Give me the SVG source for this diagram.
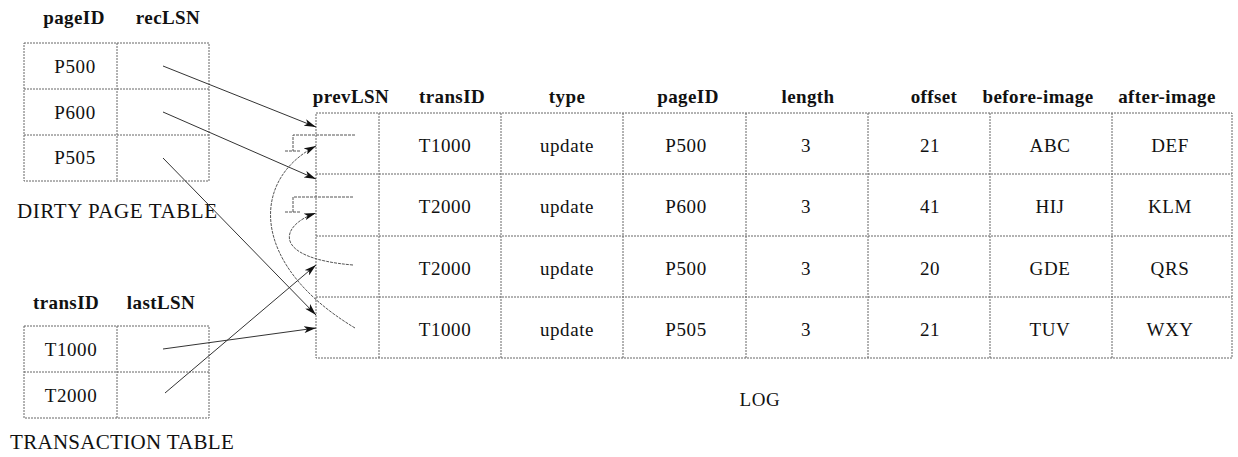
<svg xmlns="http://www.w3.org/2000/svg" width="1238" height="457" viewBox="0 0 1238 457" font-family="'Liberation Serif', 'DejaVu Serif', serif">
<style>
  text { font-family: "Liberation Serif", "DejaVu Serif", "Noto Serif", serif; fill: #111; }
  .h { font-weight: bold; font-size: 19px; text-anchor: middle; letter-spacing: 0.4px; }
  .c { font-size: 19px; text-anchor: middle; letter-spacing: 0.6px; }
  .lbl { font-size: 21px; letter-spacing: 0.6px; }
  .grid { fill: none; stroke: #666; stroke-width: 1; stroke-dasharray: 2 1; }
  .conn { fill: none; stroke: #333; stroke-width: 1; }
  .soft { fill: none; stroke: #555; stroke-width: 1; stroke-dasharray: 3 1; }
</style>
<defs>
  <marker id="ah" markerUnits="userSpaceOnUse" markerWidth="13" markerHeight="7" refX="12" refY="3.5" orient="auto">
    <path d="M0,0 L12,3.5 L0,7 L3,3.5 z" fill="#111"/>
  </marker>
</defs>
<rect width="1238" height="457" fill="#fff"/>

<g id="dirty-page-table">
  <text class="h" x="74" y="24">pageID</text>
  <text class="h" x="168" y="24">recLSN</text>
  <rect class="grid" x="24" y="43" width="185" height="138"/>
  <line class="grid" x1="117" y1="43" x2="117" y2="181"/>
  <line class="grid" x1="24" y1="89" x2="209" y2="89"/>
  <line class="grid" x1="24" y1="135" x2="209" y2="135"/>
  <text class="c" x="75" y="73">P500</text>
  <text class="c" x="75" y="119">P600</text>
  <text class="c" x="75" y="164">P505</text>
  <text class="lbl" x="17" y="218">DIRTY PAGE TABLE</text>
</g>

<g id="transaction-table">
  <text class="h" x="66" y="309">transID</text>
  <text class="h" x="161" y="309">lastLSN</text>
  <rect class="grid" x="24" y="326" width="185" height="92"/>
  <line class="grid" x1="117" y1="326" x2="117" y2="418"/>
  <line class="grid" x1="24" y1="372" x2="209" y2="372"/>
  <text class="c" x="71" y="356">T1000</text>
  <text class="c" x="71" y="402">T2000</text>
  <text class="lbl" x="10" y="449" style="letter-spacing:0.3px">TRANSACTION TABLE</text>
</g>

<g id="log">
  <text class="h" x="351" y="103">prevLSN</text>
  <text class="h" x="452" y="103">transID</text>
  <text class="h" x="567" y="103">type</text>
  <text class="h" x="688" y="103">pageID</text>
  <text class="h" x="808" y="103">length</text>
  <text class="h" x="934" y="103">offset</text>
  <text class="h" x="1038" y="103">before-image</text>
  <text class="h" x="1167" y="103">after-image</text>
  <rect class="grid" x="316" y="113" width="916" height="245"/>
  <line class="grid" x1="379" y1="113" x2="379" y2="358"/>
  <line class="grid" x1="501" y1="113" x2="501" y2="358"/>
  <line class="grid" x1="623" y1="113" x2="623" y2="358"/>
  <line class="grid" x1="746" y1="113" x2="746" y2="358"/>
  <line class="grid" x1="868" y1="113" x2="868" y2="358"/>
  <line class="grid" x1="990" y1="113" x2="990" y2="358"/>
  <line class="grid" x1="1112" y1="113" x2="1112" y2="358"/>
  <line class="grid" x1="316" y1="174" x2="1232" y2="174"/>
  <line class="grid" x1="316" y1="236" x2="1232" y2="236"/>
  <line class="grid" x1="316" y1="297" x2="1232" y2="297"/>

  <text class="c" x="445" y="152">T1000</text>
  <text class="c" x="567" y="152">update</text>
  <text class="c" x="686" y="152">P500</text>
  <text class="c" x="806" y="152">3</text>
  <text class="c" x="930" y="152">21</text>
  <text class="c" x="1050" y="152">ABC</text>
  <text class="c" x="1170" y="152">DEF</text>

  <text class="c" x="445" y="213">T2000</text>
  <text class="c" x="567" y="213">update</text>
  <text class="c" x="686" y="213">P600</text>
  <text class="c" x="806" y="213">3</text>
  <text class="c" x="930" y="213">41</text>
  <text class="c" x="1050" y="213">HIJ</text>
  <text class="c" x="1170" y="213">KLM</text>

  <text class="c" x="445" y="275">T2000</text>
  <text class="c" x="567" y="275">update</text>
  <text class="c" x="686" y="275">P500</text>
  <text class="c" x="806" y="275">3</text>
  <text class="c" x="930" y="275">20</text>
  <text class="c" x="1050" y="275">GDE</text>
  <text class="c" x="1170" y="275">QRS</text>

  <text class="c" x="445" y="336">T1000</text>
  <text class="c" x="567" y="336">update</text>
  <text class="c" x="686" y="336">P505</text>
  <text class="c" x="806" y="336">3</text>
  <text class="c" x="930" y="336">21</text>
  <text class="c" x="1050" y="336">TUV</text>
  <text class="c" x="1170" y="336">WXY</text>

  <text class="c" x="760" y="406">LOG</text>
</g>

<g id="connectors">
  <line class="conn" x1="163" y1="66" x2="316" y2="127" marker-end="url(#ah)"/>
  <line class="conn" x1="163" y1="112" x2="316" y2="179" marker-end="url(#ah)"/>
  <line class="conn" x1="163" y1="158" x2="316" y2="315" marker-end="url(#ah)"/>
  <line class="conn" x1="163" y1="349" x2="316" y2="328" marker-end="url(#ah)"/>
  <line class="conn" x1="165" y1="393" x2="316" y2="265" marker-end="url(#ah)"/>
  <path class="soft" d="M355,328 C250,265 250,180 316,146" marker-end="url(#ah)"/>
  <path class="soft" d="M353,265 C270,258 280,225 316,213" marker-end="url(#ah)"/>
  <path class="soft" d="M355,135 H293 V151 M285,151 H301"/>
  <path class="soft" d="M353,197 H293 V212 M285,212 H301"/>
</g>
</svg>
